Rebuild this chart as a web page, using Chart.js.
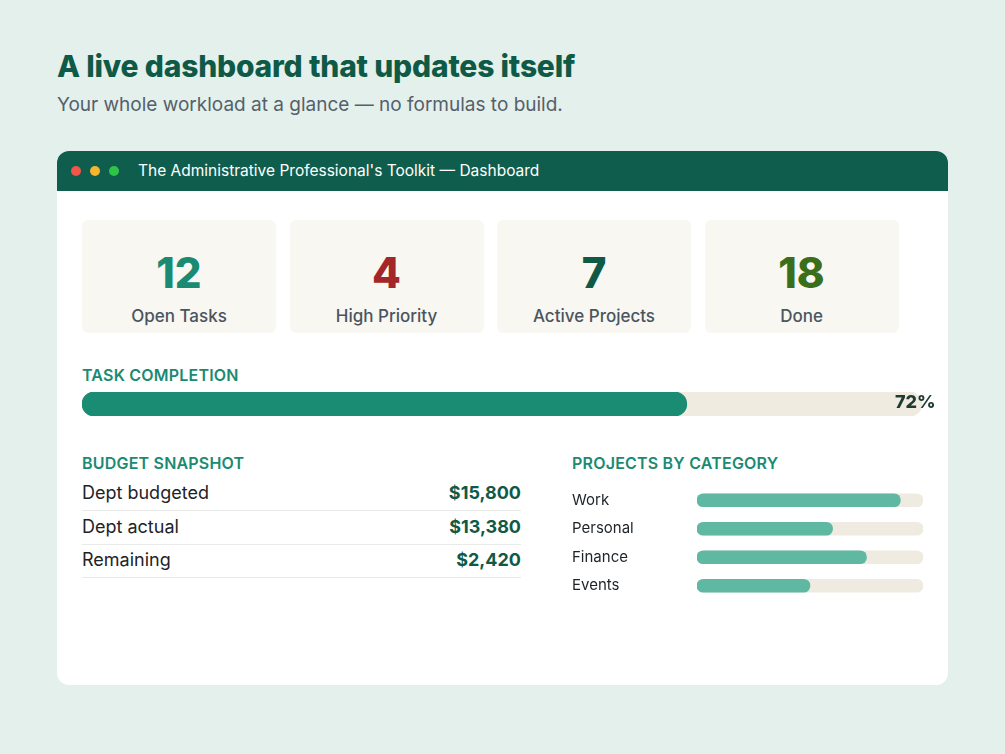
<!DOCTYPE html>
<html>
<head>
<meta charset="utf-8">
<script src="https://cdn.jsdelivr.net/npm/chart.js@4"></script>
<style>
  body { margin: 0; width: 1005px; height: 754px; background: #e3f0ec; font-family: Inter, "Open Sans", sans-serif; position: relative; overflow: hidden; }
  .abs { position: absolute; }
  h1 { position: absolute; left: 57px; top: 48px; margin: 0; font-size: 30px; font-weight: 800; color: #0f5a47; letter-spacing: -0.2px; }
  .sub { left: 57px; top: 93px; font-size: 19px; color: #55606a; }
  .card { left: 57px; top: 151px; width: 891px; height: 534px; background: #fff; border-radius: 12px; overflow: hidden; }
  .head { left: 0; top: 0; width: 891px; height: 40px; background: #0f5e4d; }
  .dot { width: 10px; height: 10px; border-radius: 5px; top: 15px; }
  .htitle { left: 81px; top: 10px; color: #fff; font-size: 15.5px; }
  .kpi { top: 69px; width: 194px; height: 113px; background: #f8f7f2; border-radius: 6px; text-align: center; }
  .kpi .n { margin-top: 28px; font-size: 42px; font-weight: 800; line-height: 50px; }
  .kpi .l { margin-top: 8px; font-size: 17px; color: #4a5560; font-weight: 500; }
  .sec { font-size: 16px; font-weight: 600; color: #1b8a72; letter-spacing: 0.2px; }
  .row { left: 25px; width: 439px; height: 33px; border-bottom: 1px solid #e8ebe8; font-size: 18px; color: #1e2328; }
  .row span { position: absolute; top: 5px; }
  .row b { position: absolute; right: 0; top: 5px; color: #0f5a47; font-weight: 700; }
</style>
</head>
<body>
<h1>A live dashboard that updates itself</h1>
<div class="abs sub">Your whole workload at a glance — no formulas to build.</div>
<div class="abs card">
  <div class="abs head">
    <div class="abs dot" style="left:14px;background:#f0574a"></div>
    <div class="abs dot" style="left:33px;background:#f5b52e"></div>
    <div class="abs dot" style="left:52px;background:#2fc34a"></div>
    <div class="abs htitle">The Administrative Professional's Toolkit — Dashboard</div>
  </div>
  <div id="kpis"></div>
  <div class="abs sec" style="left:25px;top:214px">TASK COMPLETION</div>
  <div class="abs" style="left:25px;top:241px;width:840px;height:24px"><canvas id="taskChart"></canvas></div>
  <div class="abs" id="pct" style="left:838px;top:240px;font-size:18px;font-weight:800;color:#1e3a33"></div>
  <div class="abs sec" style="left:25px;top:302px">BUDGET SNAPSHOT</div>
  <div id="budget"></div>
  <div class="abs sec" style="left:515px;top:302px">PROJECTS BY CATEGORY</div>
  <div class="abs" style="left:515px;top:326px;width:351px;height:132px"><canvas id="catChart"></canvas></div>
</div>
<script>
'use strict';

// ── Data ────────────────────────────────────────────────────────
const kpiLabels = ['Open Tasks', 'High Priority', 'Active Projects', 'Done'];
const kpiValues = [12, 4, 7, 18];
const kpiColors = ['#1b8a72', '#a3262a', '#0f5a47', '#3b6e1a'];

const taskCompletion = 72;

const budgetLabels = ['Dept budgeted', 'Dept actual', 'Remaining'];
const budgetValues = ['$15,800', '$13,380', '$2,420'];

const categories = ['Work', 'Personal', 'Finance', 'Events'];
const categoryValues = [90, 60, 75, 50];

// ── HTML bits ───────────────────────────────────────────────────
const kpiBox = document.getElementById('kpis');
kpiLabels.forEach((label, i) => {
  const d = document.createElement('div');
  d.className = 'abs kpi';
  d.style.left = (25 + i * 207.5) + 'px';
  d.innerHTML = `<div class="n" style="color:${kpiColors[i]}">${kpiValues[i]}</div><div class="l">${label}</div>`;
  kpiBox.appendChild(d);
});
document.getElementById('pct').textContent = taskCompletion + '%';

const budgetBox = document.getElementById('budget');
budgetLabels.forEach((label, i) => {
  const d = document.createElement('div');
  d.className = 'abs row';
  d.style.top = (326 + i * 33.5) + 'px';
  d.innerHTML = `<span>${label}</span><b>${budgetValues[i]}</b>`;
  budgetBox.appendChild(d);
});

// ── Charts ──────────────────────────────────────────────────────
const TRACK = '#f0ebe0';

function hiddenX() {
  return { min: 0, max: 100, display: false, grid: { display: false } };
}

new Chart(document.getElementById('taskChart'), {
  type: 'bar',
  data: {
    labels: ['Tasks'],
    datasets: [
      { data: [taskCompletion], backgroundColor: '#1b8c74', barThickness: 24, borderRadius: 12, borderSkipped: false },
      { data: [100], backgroundColor: TRACK, barThickness: 24, borderRadius: 12, borderSkipped: false }
    ]
  },
  options: {
    indexAxis: 'y', responsive: true, maintainAspectRatio: false, animation: false,
    layout: { padding: 0 },
    datasets: { bar: { grouped: false } },
    scales: { x: hiddenX(), y: { display: false } },
    plugins: { legend: { display: false }, tooltip: { enabled: false } }
  }
});

new Chart(document.getElementById('catChart'), {
  type: 'bar',
  data: {
    labels: categories,
    datasets: [
      { data: categoryValues, backgroundColor: '#5fb8a2', barThickness: 13, borderRadius: 7, borderSkipped: false },
      { data: categories.map(() => 100), backgroundColor: TRACK, barThickness: 13, borderRadius: 7, borderSkipped: false }
    ]
  },
  options: {
    indexAxis: 'y', responsive: true, maintainAspectRatio: false, animation: false,
    layout: { padding: 0 },
    datasets: { bar: { grouped: false } },
    scales: {
      x: hiddenX(),
      y: {
        grid: { display: false }, border: { display: false },
        afterFit: (axis) => { axis.width = 125; },
        ticks: { crossAlign: 'far', padding: 0, color: '#1e2328', font: { family: 'Inter', size: 15 } }
      }
    },
    plugins: { legend: { display: false }, tooltip: { enabled: false } }
  }
});
</script>
</body>
</html>
